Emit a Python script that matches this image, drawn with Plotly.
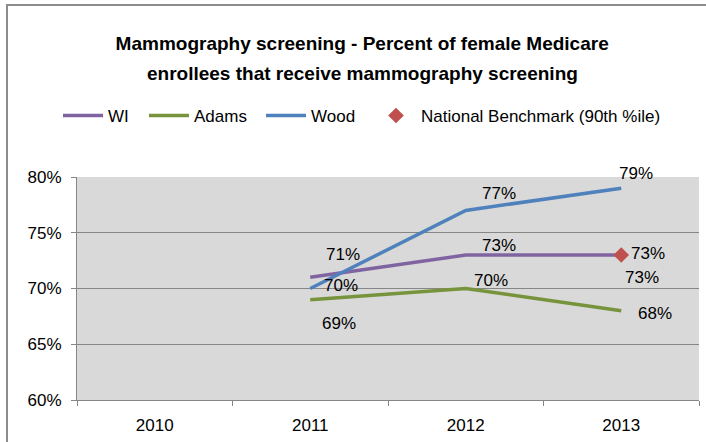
import plotly.graph_objects as go

anos = ["2010", "2011", "2012", "2013"]
wi = [None, 0.71, 0.73, 0.73]
adams = [None, 0.69, 0.70, 0.68]
wood = [None, 0.70, 0.77, 0.79]
benchmark = [None, None, None, 0.73]

fonte = "Liberation Sans, Arial, sans-serif"

fig = go.Figure()

# deslocamento (px) de cada rótulo em relação ao ponto, como no Excel
series = [
    ("WI", wi, "#8064A2", [None, (33, 23), (33, 10), (21, -22)], 31),
    ("Adams", adams, "#77933C", [None, (29, -24), (25, 8), (34, -3)], 62),
    ("Wood", wood, "#4F81BD", [None, (31, 3), (33, 17), (15, 15)], 55),
]

for nome, y, cor, desloc, larg in series:
    fig.add_trace(go.Scatter(x=anos, y=y, name=nome, mode="lines",
                             line=dict(color=cor, width=3.5), legendwidth=larg))
    for i, (v, d) in enumerate(zip(y, desloc)):
        if v is None:
            continue
        fig.add_annotation(x=i, y=v, xref="x", yref="y", text=f"{v:.0%}",
                           showarrow=False, xshift=d[0], yshift=d[1],
                           font=dict(size=17, color="#000000"))

fig.add_trace(go.Scatter(
    x=anos, y=benchmark, name="National Benchmark (90th %ile)", mode="markers",
    marker=dict(symbol="diamond", size=12, color="#C0504D"),
))
for i, v in enumerate(benchmark):
    if v is not None:
        fig.add_annotation(x=i, y=v, xref="x", yref="y", text=f"{v:.0%}",
                           showarrow=False, xshift=27, yshift=2,
                           font=dict(size=17, color="#000000"))

fig.add_annotation(text="<b>enrollees that receive mammography screening</b>",
                   xref="paper", yref="paper", x=0.459, y=1.466,
                   xanchor="center", yanchor="middle", showarrow=False,
                   font=dict(size=19))

fig.update_layout(
    width=706, height=442,
    margin=dict(l=77, r=7, t=177, b=42, autoexpand=False),
    paper_bgcolor="white",
    plot_bgcolor="#D9D9D9",
    font=dict(family=fonte, size=17, color="#000000"),
    title=dict(text="<b>Mammography screening - Percent of female Medicare</b>",
               x=0.513, xanchor="center", y=1 - 43 / 442, yanchor="middle",
               font=dict(size=19, family=fonte)),
    legend=dict(orientation="h", xref="container", x=58 / 706, xanchor="left",
                yref="container", y=1 - 116 / 442, yanchor="middle",
                font=dict(size=17), itemwidth=40),
    xaxis=dict(type="category", range=[-0.5, 3.5], tickson="boundaries",
               ticks="outside", ticklen=5, tickcolor="#868686",
               showline=True, linecolor="#868686", linewidth=1,
               showgrid=False, ticklabelstandoff=10, tickfont=dict(size=17)),
    yaxis=dict(range=[0.6, 0.8], dtick=0.05, tickformat=".0%",
               ticks="outside", ticklen=5, tickcolor="#868686",
               showline=True, linecolor="#868686", linewidth=1,
               gridcolor="#868686", gridwidth=1, zeroline=False,
               ticklabelstandoff=6, tickfont=dict(size=17)),
    shapes=[dict(type="rect", xref="paper", yref="paper",
                 x0=-70 / 622, x1=720 / 622, y0=-0.5, y1=(223 + 172) / 223,
                 line=dict(color="#8C8C8C", width=2), layer="below")],
)

# a página tem margem de 8px no body; zera para alinhar com a imagem
fig.write_html("out.html", config={"displayModeBar": False},
               post_script="document.body.style.margin='0';")
